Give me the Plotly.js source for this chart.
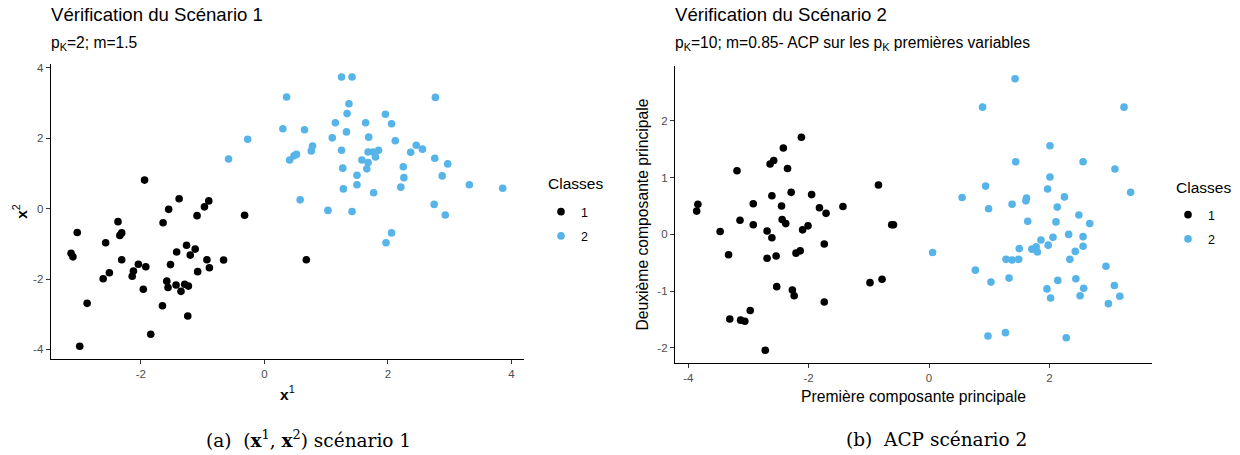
<!DOCTYPE html>
<html>
<head>
<meta charset="utf-8">
<script src="https://cdn.plot.ly/plotly-3.0.1.min.js"></script>
<style>html,body{margin:0;padding:0;background:#fff;}#chart{width:1240px;height:455px;}</style>
</head>
<body>
<div id="chart"></div>
<script>
// Scenario 1 : (x1, x2)
const s1_class1_x = [-3.13,-3.10,-3.03,-2.99,-2.87,-2.61,-2.51,-2.57,-2.37,-2.34,-2.31,-2.31,-2.14,-2.12,-2.04,-1.92,-1.96,-1.84,-1.94,-1.65,-1.64,-1.55,-1.58,-1.56,-1.52,-1.42,-1.43,-1.38,-1.35,-1.26,-1.29,-1.23,-1.24,-1.20,-1.12,-1.08,-1.09,-0.97,-0.90,-0.93,-0.89,-0.66,-0.32,0.68];
const s1_class1_y = [-1.27,-1.37,-0.68,-3.91,-2.69,-1.99,-1.82,-0.97,-0.37,-0.76,-0.69,-1.45,-1.92,-1.77,-1.58,-1.65,-2.29,-3.57,0.81,-2.76,-0.40,-0.02,-2.06,-2.24,-1.59,-1.23,-2.17,0.28,-2.35,-1.04,-2.15,-2.20,-3.05,-1.32,-1.15,-1.79,-0.20,0.05,0.22,-1.45,-1.68,-1.46,-0.19,-1.45];
const s1_class2_x = [-0.58,-0.27,0.30,0.36,0.65,0.41,0.48,0.52,0.58,0.76,0.78,1.03,1.10,1.15,1.25,1.42,1.37,1.34,1.33,1.25,1.27,1.28,1.42,1.50,1.50,1.58,1.64,1.69,1.68,1.68,1.66,1.76,1.80,1.85,1.77,1.96,2.06,2.12,2.25,2.26,2.21,2.37,2.46,2.56,2.77,2.76,2.97,2.88,3.32,3.86,2.75,2.93,2.06,1.97];
const s1_class2_y = [1.41,1.97,2.27,3.17,2.24,1.38,1.50,1.54,0.25,1.64,1.78,-0.05,2.01,2.44,3.74,3.74,2.98,2.70,2.18,1.66,1.15,0.56,-0.08,0.95,0.68,1.38,2.44,2.03,1.61,1.31,1.13,1.61,1.47,1.66,0.45,2.68,2.41,1.93,1.19,0.88,0.61,1.60,1.80,1.69,3.16,1.43,1.27,0.93,0.68,0.58,0.12,-0.18,-0.69,-0.97];

// Scenario 2 : ACP
const s2_class1_x = [-3.19,-2.64,-2.58,-2.42,-2.12,-2.35,-2.61,-2.29,-1.95,-0.84,-3.84,-3.86,-3.47,-3.14,-2.92,-2.92,-3.33,-2.69,-2.61,-2.69,-2.54,-2.45,-2.44,-2.38,-2.10,-2.01,-2.21,-2.14,-1.82,-1.71,-1.74,-1.43,-0.62,-0.59,-0.98,-0.78,-2.53,-2.27,-2.24,-1.74,-2.97,-3.31,-3.13,-3.06,-2.72];
const s2_class1_y = [1.12,1.24,1.30,1.52,1.71,1.16,0.68,0.74,0.70,0.87,0.53,0.41,0.05,0.25,0.54,0.17,-0.36,0.06,-0.06,-0.42,-0.38,0.50,0.26,0.19,0.08,0.15,-0.33,-0.29,0.47,0.37,-0.17,0.49,0.17,0.17,-0.85,-0.79,-0.92,-0.98,-1.08,-1.19,-1.34,-1.49,-1.51,-1.53,-2.04];
const s2_class2_x = [0.06,1.43,0.89,3.24,2.01,1.44,2.56,3.09,2.01,0.94,3.35,0.55,0.99,1.38,1.62,1.61,1.97,2.25,2.13,2.49,2.67,1.64,2.11,2.32,2.56,2.56,2.06,1.86,1.98,1.71,1.78,1.80,1.50,2.43,2.34,1.28,1.38,1.49,0.77,1.03,1.33,1.96,2.02,2.14,2.44,2.57,2.51,2.94,3.08,3.17,2.98,0.98,1.27,2.28];
const s2_class2_y = [-0.32,2.74,2.24,2.24,1.56,1.28,1.28,1.15,1.01,0.85,0.74,0.65,0.45,0.53,0.64,0.59,0.80,0.66,0.48,0.34,0.19,0.23,0.22,0.00,-0.04,-0.21,-0.05,-0.10,-0.19,-0.26,-0.22,-0.31,-0.25,-0.30,-0.44,-0.44,-0.45,-0.44,-0.63,-0.84,-0.77,-0.96,-1.12,-0.81,-0.78,-0.95,-1.08,-0.56,-0.90,-1.09,-1.22,-1.79,-1.73,-1.82];

const class_names = ["1", "2"];
const class_colors = ["#000000", "#56B4E9"];
const s1_ticks_x = [-2, 0, 2, 4];
const s1_ticks_y = [-4, -2, 0, 2, 4];
const s2_ticks_x = [-4, -2, 0, 2];
const s2_ticks_y = [-2, -1, 0, 1, 2];

const FONT = "Liberation Sans, Arial, Helvetica, sans-serif";
const MS = 7.6;

function pts(x, y, xa, ya, k, leg) {
  return {
    type: "scatter", mode: "markers", x: x, y: y, xaxis: xa, yaxis: ya,
    name: class_names[k], legend: leg, legendgroup: leg + k, showlegend: true,
    marker: {color: class_colors[k], size: MS, line: {width: 0}},
    hoverinfo: "skip"
  };
}

const data = [
  pts(s1_class1_x, s1_class1_y, "x", "y", 0, "legend"),
  pts(s1_class2_x, s1_class2_y, "x", "y", 1, "legend"),
  pts(s2_class1_x, s2_class1_y, "x2", "y2", 0, "legend2"),
  pts(s2_class2_x, s2_class2_y, "x2", "y2", 1, "legend2")
];

function ax(dom, range, ticks, anchor) {
  return {
    domain: dom, range: range, tickvals: ticks, ticktext: ticks.map(String),
    anchor: anchor, showgrid: false, zeroline: false, showline: true,
    linecolor: "#000", linewidth: 1.1, ticks: "outside", ticklen: 4,
    tickwidth: 1, tickcolor: "#333",
    tickfont: {family: FONT, size: 11.5, color: "#4D4D4D"}, fixedrange: true
  };
}

const W = 1240, H = 455;
const px = v => v / W, py = v => 1 - v / H;

function ann(text, x, y, size, opts) {
  return Object.assign({
    text: text, x: px(x), y: py(y), xref: "paper", yref: "paper",
    showarrow: false, xanchor: "left", yanchor: "middle",
    font: {family: FONT, size: size, color: "#000"}
  }, opts || {});
}

const legendBase = {
  orientation: "v", bgcolor: "rgba(0,0,0,0)", borderwidth: 0,
  font: {family: FONT, size: 12.5, color: "#000"},
  tracegroupgap: 5, traceorder: "grouped", itemsizing: "trace",
  xanchor: "left", yanchor: "top"
};

const layout = {
  width: W, height: H, autosize: false,
  margin: {l: 0, r: 0, t: 0, b: 0},
  paper_bgcolor: "#fff", plot_bgcolor: "#fff",
  xaxis: ax([px(50.7), px(524.3)], [-3.46, 4.21], s1_ticks_x, "y"),
  yaxis: ax([py(359.3), py(64.3)], [-4.28, 4.10], s1_ticks_y, "x"),
  xaxis2: ax([px(675), px(1151.7)], [-4.22, 3.70], s2_ticks_x, "y2"),
  yaxis2: ax([py(363.3), py(65.7)], [-2.27, 2.97], s2_ticks_y, "x2"),
  legend: Object.assign({}, legendBase, {x: px(541), y: py(197)}),
  legend2: Object.assign({}, legendBase, {x: px(1168), y: py(200)}),
  annotations: [
    ann("Vérification du Scénario 1", 49, 15, 18.6),
    ann("p<sub>K</sub>=2; m=1.5", 49, 43, 15.6),
    ann("Vérification du Scénario 2", 673, 15, 18.6),
    ann("p<sub>K</sub>=10; m=0.85- ACP sur les p<sub>K</sub> premières variables", 673, 43, 15.6),
    ann("<b>x</b><sup>1</sup>", 287.5, 393, 15.5, {xanchor: "center"}),
    ann("<b>x</b><sup>2</sup>", 20, 211.8, 15.5, {xanchor: "center", textangle: -90}),
    ann("Première composante principale", 913.4, 396, 15.7, {xanchor: "center"}),
    ann("Deuxième composante principale", 642, 214.5, 15.7, {xanchor: "center", textangle: -90}),
    ann("Classes", 545.5, 183.5, 15.5),
    ann("Classes", 1173.5, 187, 15.5),
    ann("(a)  (<b>x</b><sup>1</sup>, <b>x</b><sup>2</sup>) scénario 1", 308, 439, 18.5, {xanchor: "center", font: {family: "DejaVu Serif, serif", size: 18.5, color: "#000"}}),
    ann("(b)  ACP scénario 2", 936.7, 439, 18.5, {xanchor: "center", font: {family: "DejaVu Serif, serif", size: 18.5, color: "#000"}})
  ]
};

Plotly.newPlot("chart", data, layout, {staticPlot: true, displayModeBar: false});
</script>
</body>
</html>
